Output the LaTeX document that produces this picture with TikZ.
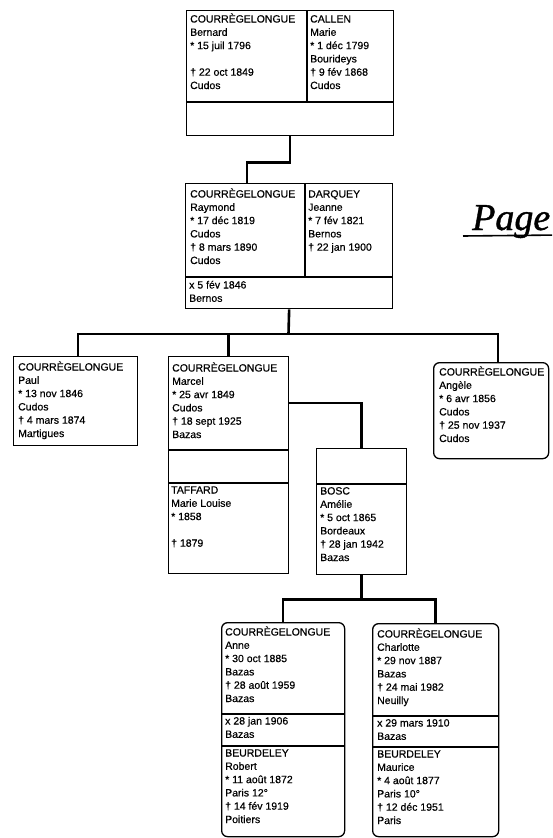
\documentclass[tikz,border=0pt]{standalone}
\usepackage{fontspec}
\setmainfont{Liberation Sans}[FakeBold=0.5]
\newfontfamily\handfont{Liberation Serif}[FakeBold=1]
\usetikzlibrary{calc}
\newcommand\fs{\fontsize{10.5}{13.3}\selectfont}
\begin{document}
\begin{tikzpicture}[x=1pt,y=-1pt,
  box/.style={draw, line width=1.3pt, inner sep=0pt, anchor=north west},
  rbox/.style={box, rounded corners=6pt},
  divl/.style={line width=1.3pt},
  conn/.style={line width=2.6pt},
  txt/.style={anchor=north west, inner sep=0pt, align=left, font=\fs}]
\useasboundingbox (0,0) rectangle (552,838);
\clip (0,0) rectangle (552,838);
% ---------- boxes ----------
\node[box, minimum width=207pt, minimum height=125pt] (b1) at (186,10) {};
\draw[divl] (307,10) -- (307,102);
\draw[divl] (186,102) -- (393,102);
\node[box, minimum width=207pt, minimum height=125pt] (b2) at (185,183) {};
\draw[divl] (305,183) -- (305,277);
\draw[divl] (185,277) -- (392,277);
\node[box, minimum width=124pt, minimum height=89pt] (paul) at (13,356) {};
\node[box, minimum width=120pt, minimum height=217pt] (marcel) at (168,356) {};
\draw[divl] (168,450) -- (288,450);
\draw[divl] (168,483) -- (288,483);
\node[rbox, minimum width=115pt, minimum height=96pt] (angele) at (433,362) {};
\node[box, minimum width=90pt, minimum height=126pt] (bosc) at (316,448) {};
\draw[divl] (316,484) -- (406,484);
\node[rbox, minimum width=123pt, minimum height=214pt] (anne) at (221,622) {};
\draw[divl] (221,714) -- (344,714);
\draw[divl] (221,746) -- (344,746);
\node[rbox, minimum width=126pt, minimum height=213pt] (charlotte) at (372,623) {};
\draw[divl] (372,716) -- (498,716);
\draw[divl] (372,747) -- (498,747);
% ---------- texts ----------
\node[txt] (t1a) at (190,13) {\strut COURRÈGELONGUE\\Bernard\\* 15 juil 1796\\\mbox{}\\† 22 oct 1849\\Cudos};
\node[txt] (t1b) at (310,13) {\strut CALLEN\\Marie\\* 1 déc 1799\\Bourideys\\† 9 fév 1868\\Cudos};
\node[txt] (t2a) at (190,188) {\strut COURRÈGELONGUE\\Raymond\\* 17 déc 1819\\Cudos\\† 8 mars 1890\\Cudos};
\node[txt] (t2b) at (308,188) {\strut DARQUEY\\Jeanne\\* 7 fév 1821\\Bernos\\† 22 jan 1900};
\node[txt] (t2c) at (189,279) {\strut x 5 fév 1846\\Bernos};
\node[txt] (tpaul) at (18,361) {\strut COURRÈGELONGUE\\Paul\\* 13 nov 1846\\Cudos\\† 4 mars 1874\\Martigues};
\node[txt] (tmarcel) at (172,362) {\strut COURRÈGELONGUE\\Marcel\\* 25 avr 1849\\Cudos\\† 18 sept 1925\\Bazas};
\node[txt] (ttaffard) at (171,484) {\strut TAFFARD\\Marie Louise\\* 1858\\\mbox{}\\† 1879};
\node[txt] (tangele) at (439,366) {\strut COURRÈGELONGUE\\Angèle\\* 6 avr 1856\\Cudos\\† 25 nov 1937\\Cudos};
\node[txt] (tbosc) at (320,485) {\strut BOSC\\Amélie\\* 5 oct 1865\\Bordeaux\\† 28 jan 1942\\Bazas};
\node[txt] (tanne) at (225,626) {\strut COURRÈGELONGUE\\Anne\\* 30 oct 1885\\Bazas\\† 28 août 1959\\Bazas};
\node[txt] (tanne2) at (225,715) {\strut x 28 jan 1906\\Bazas};
\node[txt] (tanne3) at (225,747) {\strut BEURDELEY\\Robert\\* 11 août 1872\\Paris 12°\\† 14 fév 1919\\Poitiers};
\node[txt] (tcharl) at (377,628) {\strut COURRÈGELONGUE\\Charlotte\\* 29 nov 1887\\Bazas\\† 24 mai 1982\\Neuilly};
\node[txt] (tcharl2) at (377,717) {\strut x 29 mars 1910\\Bazas};
\node[txt] (tcharl3) at (377,748) {\strut BEURDELEY\\Maurice\\* 4 août 1877\\Paris 10°\\† 12 déc 1951\\Paris};
% ---------- connectors ----------
\draw[conn] (b1.south) -- ++(0,26) -| ($(b2.north west)+(62,0)$);
\coordinate (bus) at (288.5,334);
\coordinate (angtop) at (498,362);
\draw[conn] (b2.south) -- (bus);
\draw[conn] ($(paul.north west)+(65,0)$) |- (bus) -| (angtop);
\draw[conn] (marcel.north) -- (marcel.north |- bus);
\coordinate (mb) at (288,403);
\draw[conn] (mb) -| (bosc.north);
\draw[conn] (bosc.south) -- ++(0,24) coordinate (kb);
\draw[conn] (anne.north) |- (kb) -| (charlotte.north);
% ---------- handwritten note ----------
\node[anchor=base west, inner sep=0pt, font=\handfont\itshape\fontsize{38}{38}\selectfont] (page) at (472,230) {Page};
\draw[line width=1.6pt] (463,236) -- (560,235);
\end{tikzpicture}
\end{document}
